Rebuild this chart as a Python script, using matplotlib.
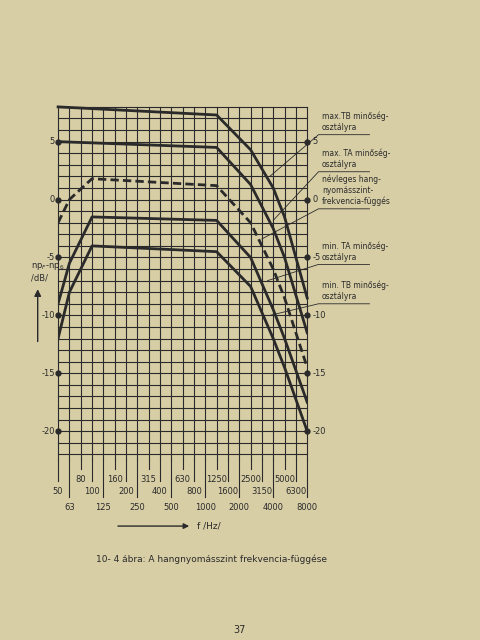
import matplotlib
matplotlib.use("Agg")
import matplotlib.pyplot as plt

freqs = ["50","63","80","100","125","160","200","250","315","400","500","630","800",
         "1000","1250","1600","2000","2500","3150","4000","5000","6300","8000"]
# curves: (x index, dB)
max_tb_x = [0, 14, 17, 19, 20, 22]
max_tb_y = [8.0, 7.3, 4.3, 1.0, -1.5, -8.5]
max_ta_x = [0, 14, 17, 19, 20, 22]
max_ta_y = [5.0, 4.5, 1.3, -2.5, -5.0, -11.5]
nom_x = [0, 1, 3, 14, 17, 19, 20, 22]
nom_y = [-2.0, 0.0, 1.8, 1.2, -2.0, -6.0, -8.5, -14.5]
min_ta_x = [0, 1, 3, 14, 17, 19, 20, 22]
min_ta_y = [-9.0, -5.5, -1.5, -1.8, -5.0, -9.5, -12.0, -17.5]
min_tb_x = [0, 1, 3, 14, 17, 19, 20, 22]
min_tb_y = [-12.0, -8.0, -4.0, -4.5, -7.5, -12.0, -14.5, -20.0]
left_ticks = [5, 0, -5, -10, -15, -20]
labels = ["max.TB minőség-\nosztályra", "max. TA minőség-\nosztályra",
          "névleges hang-\nnyomásszint-\nfrekvencia-függés",
          "min. TA minőség-\nosztályra", "min. TB minőség-\nosztályra"]

bg = "#d8cea6"
ink = "#2a2a2a"
fig = plt.figure(figsize=(4.8, 6.4), dpi=100, facecolor=bg)
ax = fig.add_axes([0.121, 0.281, 0.519, 0.552])
ax.set_facecolor(bg)
ax.set_xlim(0, 22)
ax.set_ylim(-22.5, 8)
for s in ax.spines.values():
    s.set_visible(False)
ax.set_xticks([]); ax.set_yticks([])
for y in range(-22, 9):
    ax.plot([0, 22], [y, y], color=ink, lw=0.8, clip_on=False)
for i in range(23):
    ax.plot([i, i], [-22.5, 8], color=ink, lw=0.8, clip_on=False)
    row = {2: -24.2, 0: -25.2, 1: -26.6}[i % 3]
    ax.plot([i, i], [-22.5, row + 0.9], color=ink, lw=0.8, clip_on=False)
    ax.text(i, row, freqs[i], ha="center", va="center", fontsize=6, color=ink)

lw = 2.0
ax.plot(max_tb_x, max_tb_y, color=ink, lw=lw, clip_on=False)
ax.plot(max_ta_x, max_ta_y, color=ink, lw=lw)
ax.plot(nom_x, nom_y, color=ink, lw=lw, ls=(0, (3, 1.5)))
ax.plot(min_ta_x, min_ta_y, color=ink, lw=lw)
ax.plot(min_tb_x, min_tb_y, color=ink, lw=lw)

for t in left_ticks:
    ax.plot(0, t, "o", color=ink, ms=3.5, clip_on=False)
    ax.text(-0.3, t, str(t), ha="right", va="center", fontsize=6, color=ink)
    ax.plot(22, t, "o", color=ink, ms=3.5, clip_on=False)
    ax.text(22.5, t, str(t), ha="left", va="center", fontsize=6, color=ink)

# annotation labels with leader lines
lab_y = [5.6, 2.4, -0.8, -5.6, -9.0]
pts = [(18.7, 2.0), (19.0, -1.8), (18.0, -3.4), (18.5, -7.0), (18.7, -10.0)]
for txt, yy, (px, py) in zip(labels, lab_y, pts):
    ax.text(23.3, yy + 0.2, txt, ha="left", va="bottom", fontsize=5.5, color=ink,
            linespacing=1.3, clip_on=False)
    ax.plot([px, 23.0, 27.5], [py, yy, yy], color=ink, lw=0.6, clip_on=False)

fig.text(0.065, 0.575, "np$_F$-np$_6$\n/dB/", fontsize=6, color=ink, ha="left", va="center")
ax.annotate("", xy=(-1.8, -7.5), xytext=(-1.8, -12.5), xycoords="data",
            arrowprops=dict(arrowstyle="-|>", color=ink, lw=1.0), annotation_clip=False)
fig.text(0.41, 0.178, "f /Hz/", fontsize=6.5, color=ink, ha="left", va="center")
fig.add_artist(matplotlib.patches.FancyArrowPatch((0.24, 0.178), (0.40, 0.178),
               transform=fig.transFigure, arrowstyle="-|>", mutation_scale=8, color=ink, lw=1.0))
fig.text(0.2, 0.126, "10- 4 ábra: A hangnyomásszint frekvencia-függése", fontsize=6.5,
         color=ink, ha="left", va="center")
fig.text(0.5, 0.015, "37", fontsize=7, color=ink, ha="center", va="center")
fig.savefig("out.png", dpi=100, facecolor=bg)
